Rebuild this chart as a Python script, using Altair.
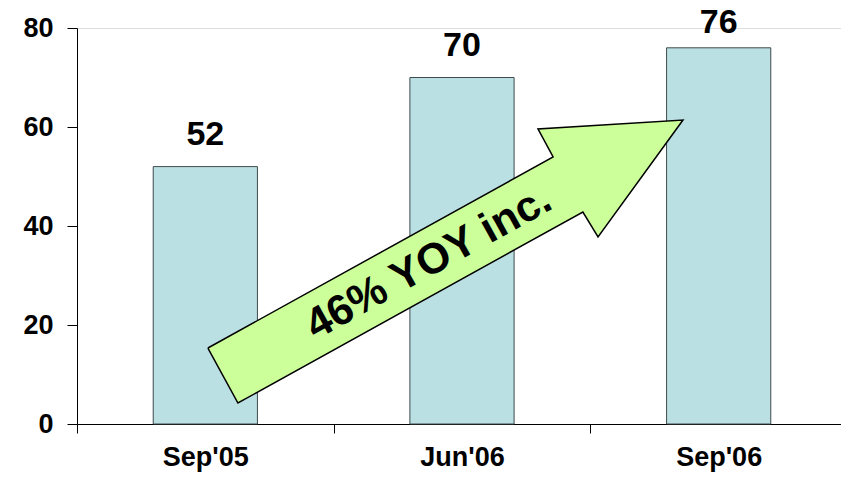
import altair as alt
import pandas as pd

# Data
categories = ["Sep'05", "Jun'06", "Sep'06"]
values = [52, 70, 76]

# Arrow annotation outline (x in category units 0..3, y in value units)
arrow_x = [0.510, 0.627, 1.971, 2.030, 2.361, 1.796, 1.855, 0.510]
arrow_y = [15.35, 4.24, 42.83, 37.78, 61.41, 59.60, 53.94, 15.35]
arrow_text = ["46% YOY inc."]
arrow_text_x = [1.395]
arrow_text_y = [30.3]

FONT = "Liberation Sans"

bars_df = pd.DataFrame({"period": categories, "value": values})
arrow_df = pd.DataFrame({"ax": arrow_x, "ay": arrow_y, "ord": list(range(len(arrow_x)))})
text_df = pd.DataFrame({"t": arrow_text, "tx": arrow_text_x, "ty": arrow_text_y})

yscale = alt.Scale(domain=[0, 80], nice=False)

xband = alt.X(
    "period:N",
    sort=categories,
    scale=alt.Scale(paddingInner=0, paddingOuter=0),
    axis=alt.Axis(
        title=None,
        labelAngle=0,
        labelFont=FONT,
        labelFontSize=27,
        labelFontWeight="bold",
        labelColor="black",
        labelPadding=11,
        tickBand="extent",
        tickSize=9,
        tickColor="black",
        domainColor="black",
        domainWidth=1,
        tickWidth=1,
    ),
)

yaxis = alt.Y(
    "value:Q",
    scale=yscale,
    axis=alt.Axis(
        title=None,
        values=[0, 20, 40, 60, 80],
        grid=False,
        labelFont=FONT,
        labelFontSize=27,
        labelFontWeight="bold",
        labelColor="black",
        labelPadding=14,
        tickSize=10,
        tickColor="black",
        domainColor="black",
        domainWidth=1,
        tickWidth=1,
    ),
)

bars = alt.Chart(bars_df).mark_bar(
    color="#BBE0E3", stroke="#3f4a4c", strokeWidth=1, width={"band": 0.406}
).encode(x=xband, y=yaxis)

# value labels sit above the bars, kept inside the chart at the top
labels = alt.Chart(bars_df).transform_calculate(
    ly="min(datum.value, 74.5)"
).mark_text(
    font=FONT, fontSize=34, fontWeight="bold", color="black",
    baseline="alphabetic", dy=-22
).encode(x=alt.X("period:N", sort=categories), y=alt.Y("ly:Q", scale=yscale), text="value:Q")

base = alt.layer(bars, labels)

xq = alt.Scale(domain=[0, 3], nice=False, zero=False)
yq = alt.Scale(domain=[0, 80], nice=False, zero=False)

arrow = alt.Chart(arrow_df).mark_line(
    fill="#CCFF99", stroke="black", strokeWidth=1.5, strokeJoin="miter"
).encode(
    x=alt.X("ax:Q", scale=xq, axis=None),
    y=alt.Y("ay:Q", scale=yq, axis=None),
    order="ord:Q",
)

arrow_label = alt.Chart(text_df).mark_text(
    font=FONT, fontSize=43, fontWeight="bold", color="black",
    angle=331, align="center", baseline="alphabetic"
).encode(
    x=alt.X("tx:Q", scale=xq, axis=None),
    y=alt.Y("ty:Q", scale=yq, axis=None),
    text="t:N",
)

overlay = alt.layer(arrow, arrow_label)

chart = alt.layer(base, overlay).resolve_scale(x="independent", y="independent").properties(
    width=770,
    height=396,
    autosize=alt.AutoSizeParams(type="none"),
    padding={"left": 69, "top": 20, "right": -6, "bottom": 48},
).configure_view(strokeWidth=0).configure(background="white")

chart.save("out.html", embed_options={"renderer": "svg", "actions": False})
